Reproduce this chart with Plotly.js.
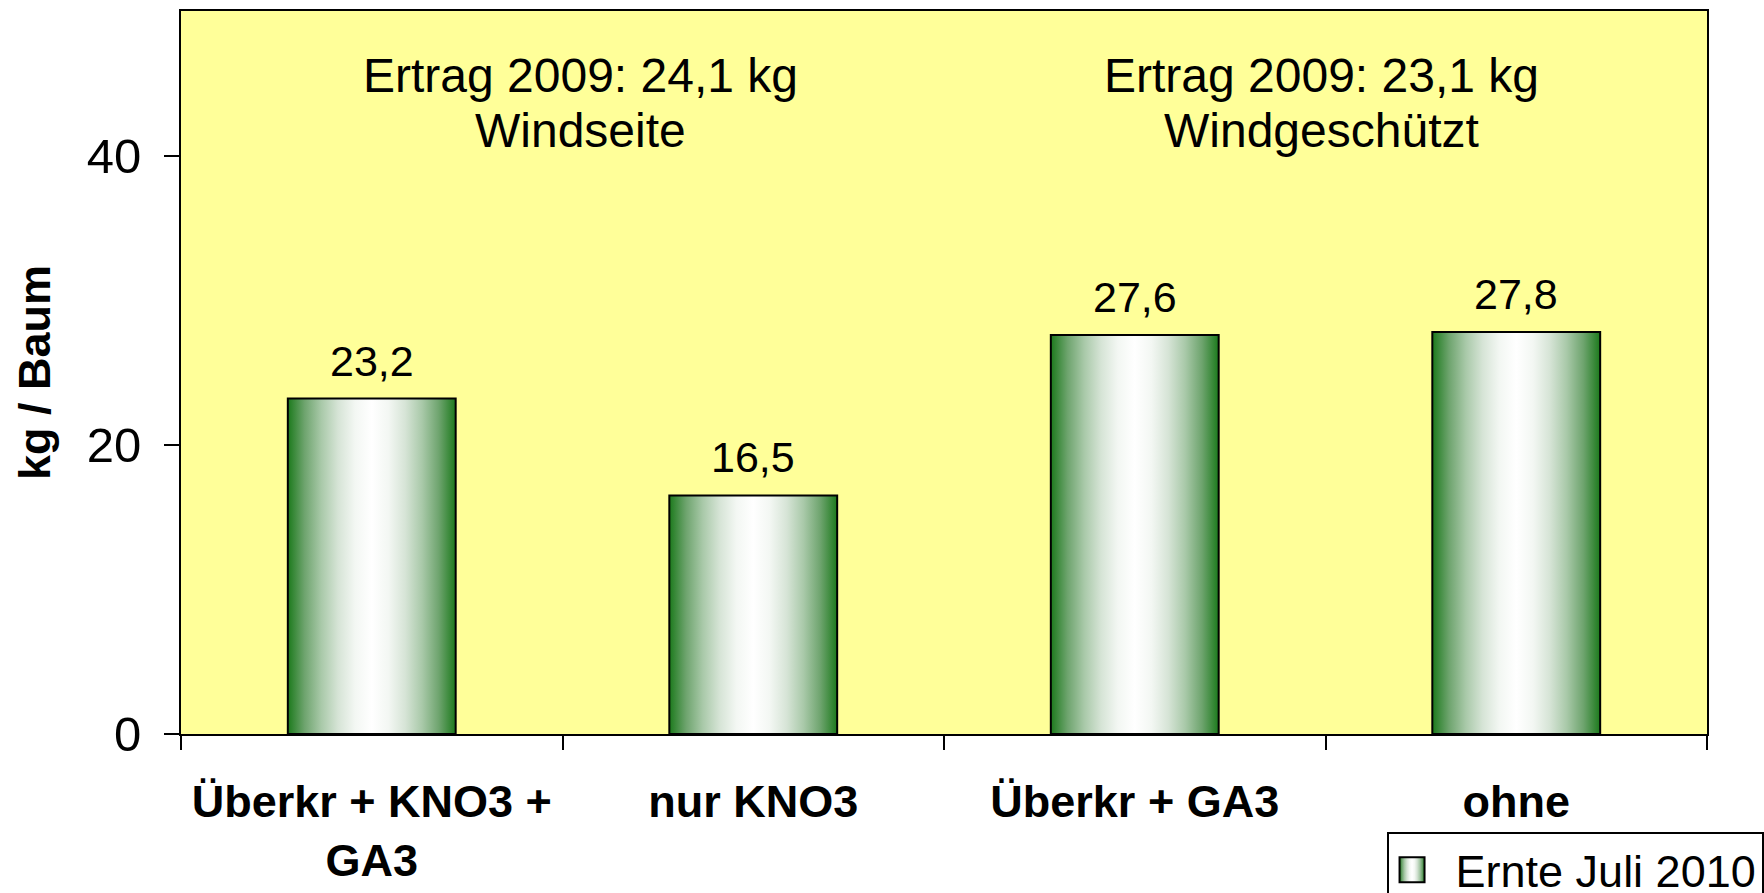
<!DOCTYPE html>
<html>
<head>
<meta charset="utf-8">
<script src="https://cdn.plot.ly/plotly-3.0.1.min.js"></script>
<style>
  html, body { margin: 0; padding: 0; background: #ffffff; }
  #chart { width: 1764px; height: 893px; }
</style>
</head>
<body>
<div id="chart"></div>
<script>
// ---- data ----
const categories = ['Überkr + KNO3 +<br>GA3', 'nur KNO3', 'Überkr + GA3', 'ohne'];
const values = [23.2, 16.5, 27.6, 27.8];
const seriesName = 'Ernte Juli 2010';
const headerLine1 = ['Ertrag 2009: 24,1 kg', 'Ertrag 2009: 23,1 kg'];
const headerLine2 = ['Windseite', 'Windgeschützt'];
const yTickVals = [0, 20, 40];
const yAxisTitle = 'kg / Baum';

const FONT = 'Liberation Sans, Arial, sans-serif';

function fmt(v) { return v.toFixed(1).replace('.', ','); }

const trace = {
  type: 'bar',
  x: categories,
  y: values,
  name: seriesName,
  showlegend: true,
  marker: { color: '#2a7d2a', line: { color: '#000000', width: 2 } },
  hoverinfo: 'skip'
};

const valueLabels = categories.map((c, i) => ({
  x: c, y: values[i], xref: 'x', yref: 'y',
  text: fmt(values[i]), showarrow: false,
  yanchor: 'bottom', yshift: 12,
  font: { family: FONT, size: 43, color: '#000000' }
}));

const headerPos = [0.2615, 0.7477];
const headers = [];
headerLine1.forEach((t, i) => {
  headers.push({
    x: headerPos[i], y: 0.911, xref: 'paper', yref: 'paper',
    text: t, showarrow: false, xanchor: 'center', yanchor: 'middle',
    font: { family: FONT, size: 48, color: '#000000' }
  });
  headers.push({
    x: headerPos[i], y: 0.835, xref: 'paper', yref: 'paper',
    text: headerLine2[i], showarrow: false, xanchor: 'center', yanchor: 'middle',
    font: { family: FONT, size: 48, color: '#000000' }
  });
});

const layout = {
  width: 1764, height: 893,
  margin: { l: 181, r: 57, t: 11, b: 159, autoexpand: false },
  paper_bgcolor: '#ffffff',
  plot_bgcolor: '#ffff99',
  bargap: 0.56,
  showlegend: true,
  legend: {
    x: 0.790, y: -0.1355, xanchor: 'left', yanchor: 'top',
    bgcolor: '#ffffff', bordercolor: '#000000', borderwidth: 2,
    font: { family: FONT, size: 45, color: '#000000' },
    itemwidth: 57
  },
  xaxis: {
    type: 'category',
    showline: true, linecolor: '#000000', linewidth: 2, mirror: true,
    ticks: 'outside', tickson: 'boundaries', ticklen: 14, tickwidth: 2, tickcolor: '#000000',
    showgrid: false, zeroline: false,
    tickfont: { family: FONT, size: 45, color: '#000000', weight: 'bold' },
    ticklabelstandoff: 27
  },
  yaxis: {
    range: [0, 50],
    tickvals: yTickVals,
    showline: true, linecolor: '#000000', linewidth: 2, mirror: true,
    ticks: 'outside', ticklen: 15, tickwidth: 2, tickcolor: '#000000',
    showgrid: false, zeroline: false,
    tickfont: { family: FONT, size: 49, color: '#000000' },
    ticklabelstandoff: 13,
    title: { text: yAxisTitle, font: { family: FONT, size: 45, color: '#000000', weight: 'bold' }, standoff: 22 },
    automargin: false
  },
  annotations: valueLabels.concat(headers)
};

const ns = 'http://www.w3.org/2000/svg';
function ensureGradient() {
  const svg = document.querySelector('#chart svg.main-svg');
  if (!svg || svg.querySelector('#barGrad')) return;
  let defs = svg.querySelector('defs');
  if (!defs) { defs = document.createElementNS(ns, 'defs'); svg.insertBefore(defs, svg.firstChild); }
  const grad = document.createElementNS(ns, 'linearGradient');
  grad.setAttribute('id', 'barGrad');
  grad.setAttribute('x1', '0'); grad.setAttribute('x2', '1');
  grad.setAttribute('y1', '0'); grad.setAttribute('y2', '0');
  const stops = [
    [0, '#1c7a1c'], [0.1, '#6ea46e'], [0.2, '#a9c9a9'], [0.3, '#d6e4d6'],
    [0.4, '#f3f7f3'], [0.5, '#ffffff'], [0.6, '#f3f7f3'], [0.7, '#d6e4d6'],
    [0.8, '#a9c9a9'], [0.9, '#6ea46e'], [1, '#1c7a1c']
  ];
  stops.forEach(([o, c]) => {
    const s = document.createElementNS(ns, 'stop');
    s.setAttribute('offset', String(o));
    s.setAttribute('stop-color', c);
    grad.appendChild(s);
  });
  defs.appendChild(grad);
}

function applyGradient() {
  ensureGradient();
  document.querySelectorAll('#chart .barlayer path').forEach(p => {
    p.style.setProperty('fill', 'url(#barGrad)', 'important');
  });
  document.querySelectorAll('#chart .legend .legendpoints path').forEach(p => {
    p.setAttribute('d', 'M2.5,12.5H-22.5V-12.5H2.5Z');
    p.style.setProperty('fill', 'url(#barGrad)', 'important');
    p.style.setProperty('stroke', '#000000', 'important');
    p.style.setProperty('stroke-width', '2px', 'important');
  });
}

const gd = document.getElementById('chart');
Plotly.newPlot(gd, [trace], layout, { staticPlot: true, displayModeBar: false })
  .then(() => {
    applyGradient();
    gd.on('plotly_afterplot', applyGradient);
    setTimeout(applyGradient, 50);
    setTimeout(applyGradient, 300);
  });
</script>
</body>
</html>
